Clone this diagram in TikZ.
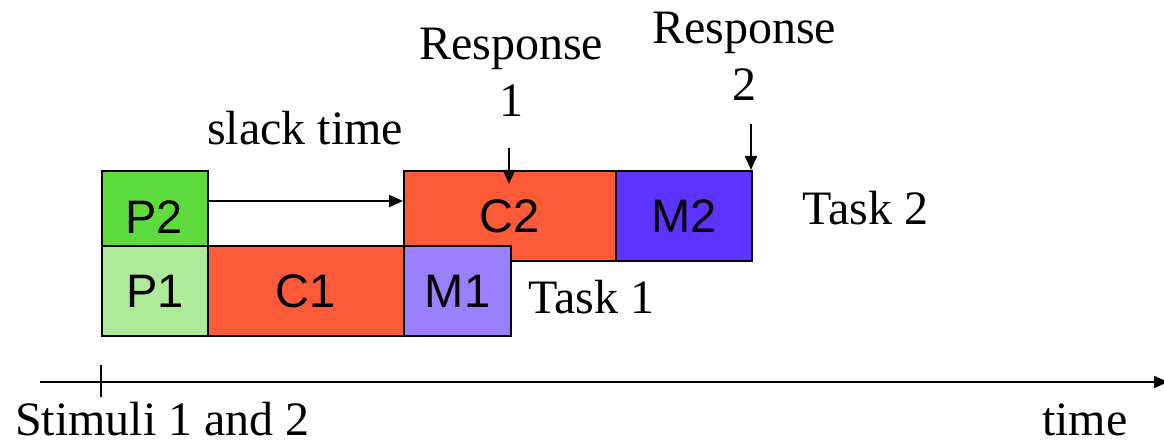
\documentclass[tikz,border=0pt]{standalone}
\usepackage{fontspec}
\setmainfont{Liberation Serif}
\newfontfamily\boxfont{Liberation Sans}
\usetikzlibrary{arrows.meta}

\definecolor{pgreen}{RGB}{94,220,62}
\definecolor{plight}{RGB}{174,234,154}
\definecolor{corange}{RGB}{252,90,56}
\definecolor{mlav}{RGB}{154,128,255}
\definecolor{mblue}{RGB}{92,51,255}

\tikzset{
  stagebox/.style={draw=black, line width=2pt, inner sep=0pt, anchor=north west,
                   font=\boxfont\fontsize{47}{52}\selectfont},
  txt/.style={inner sep=0pt, font=\fontsize{48}{57}\selectfont},
  arr/.style={line width=2pt, -{Triangle[length=14pt,width=12pt]}},
}

\begin{document}
\begin{tikzpicture}[x=1pt, y=-1pt]
  \useasboundingbox (0,0) rectangle (1164,443);

  % Task 2 and Task 1 stages
  \node[stagebox, fill=pgreen, minimum width=106pt, minimum height=75pt] (p2) at (101,170) {};
  \node[txt, font=\boxfont\fontsize{47}{52}\selectfont] (p2t) at (154,217) {P2};
  \node[stagebox, fill=plight, minimum width=106pt, minimum height=90pt] (p1) at (101,245) {P1};
  \node[stagebox, fill=corange, minimum width=196pt, minimum height=90pt] (c1) at (207,245) {C1};
  \node[stagebox, fill=corange, minimum width=212pt, minimum height=90pt] (c2) at (403,170) {C2};
  \node[stagebox, fill=mblue, minimum width=136pt, minimum height=90pt] (m2) at (615,170) {M2};
  \node[stagebox, fill=mlav, minimum width=107pt, minimum height=90pt] (m1) at (403,245) {M1};

  % labels
  \node[txt, anchor=base] (slack) at (305,145) {slack time};
  \node[txt, anchor=base west] (task2) at (802,225) {Task 2};
  \node[txt, anchor=base west] (task1) at (528,314) {Task 1};
  \node[txt, anchor=base, align=center] (resp1) at (511,117) {Response\\1};
  \node[txt, anchor=base, align=center] (resp2) at (744,101) {Response\\2};

  % slack time arrow
  \draw[arr] ([yshift=7.5pt]p2.east) -- ([yshift=15pt]c2.west);

  % response arrows
  \coordinate (r1top) at (509,148);
  \coordinate (r1tip) at (509,184);
  \draw[arr] (r1top) -- (r1tip);
  \coordinate (r2top) at (751,124);
  \draw[arr] (r2top) -- (r2top |- m2.north);

  % time axis
  \coordinate (axstart) at (40,382);
  \coordinate (axend) at (1168,382);
  \draw[arr] (axstart) -- (axend);
  \coordinate (ticktop) at (101,365);
  \coordinate (tickbot) at (101,397);
  \draw[line width=2pt] (ticktop) -- (tickbot);

  \node[txt, anchor=base west] (stim) at (15,435) {Stimuli 1 and 2};
  \node[txt, anchor=base west] (time) at (1042,435) {time};
\end{tikzpicture}
\end{document}
